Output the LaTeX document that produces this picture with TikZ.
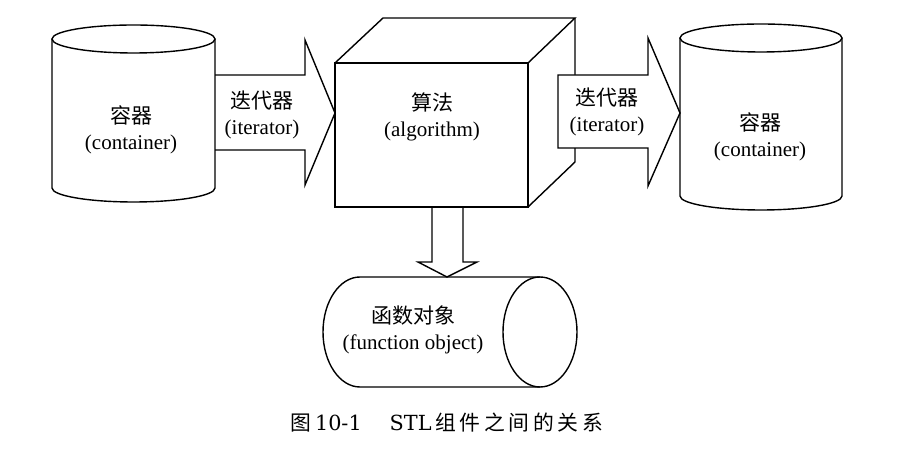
\documentclass[tikz,border=0pt]{standalone}
\usepackage{fontspec}
\setmainfont{Liberation Serif}
\newfontfamily\cjk{Noto Sans CJK SC}
\newfontfamily\cjkcap[LetterSpace=18]{Noto Sans CJK SC}
\newfontfamily\capfont{DejaVu Serif}
\usepackage{tikz}
\usetikzlibrary{positioning}

\begin{document}
\begin{tikzpicture}[x=0.5pt,y=0.5pt,line width=0.7pt,
  lbl/.style={align=center,font=\fontsize{10.5}{13}\selectfont}]

\useasboundingbox (0,0) rectangle (901,-458);

% left container
\draw (133.5,-39) ellipse [x radius=81.5, y radius=14];
\draw (52,-39) -- (52,-188) arc [start angle=180, end angle=360, x radius=81.5, y radius=14] -- (215,-39);
\node (contL) at (131,-130) [lbl] {{\cjk 容器}\\(container)};

% iterator in
\draw (215,-75) -- (305,-75) -- (305,-40) -- (335,-113) -- (305,-185) -- (305,-150) -- (215,-150);
\node (iterL) at (262,-115) [lbl] {{\cjk 迭代器}\\(iterator)};

% algorithm box
\draw (335,-63) rectangle (528,-207);
\draw (335,-63) -- (383,-18) -- (575,-18) -- (528,-63);
\draw (575,-18) -- (575,-162) -- (528,-207);
\node (algo) at (432,-117) [lbl] {{\cjk 算法}\\(algorithm)};

% iterator out
\draw [fill=white] (558,-75) -- (648,-75) -- (648,-38) -- (680,-113) -- (648,-186) -- (648,-148) -- (558,-148) -- cycle;
\node (iterR) at (607,-112) [lbl] {{\cjk 迭代器}\\(iterator)};

% right container
\draw (761,-38) ellipse [x radius=81, y radius=14];
\draw (680,-38) -- (680,-196) arc [start angle=180, end angle=360, x radius=81, y radius=14] -- (842,-38);
\node (contR) at (760,-137) [lbl] {{\cjk 容器}\\(container)};

% down to function object
\draw (432,-207) -- (432,-262) -- (418,-262) -- (447,-277) -- (477,-262) -- (463,-262) -- (463,-207);

% function object
\draw (540,-332) ellipse [x radius=37, y radius=55];
\draw (540,-277) -- (360,-277) arc [start angle=90, end angle=270, x radius=37, y radius=55] -- (540,-387);
\node (funcobj) at (413,-330) [lbl] {{\cjk 函数对象}\\(function object)};

\node (caption) at (447,-423) [font=\fontsize{10.4}{12}\selectfont]
  {{\cjkcap 图}\,{\capfont 10-1}\hspace{14pt}{\capfont STL}\,{\cjkcap 组件之间的关系}};

\end{tikzpicture}
\end{document}
